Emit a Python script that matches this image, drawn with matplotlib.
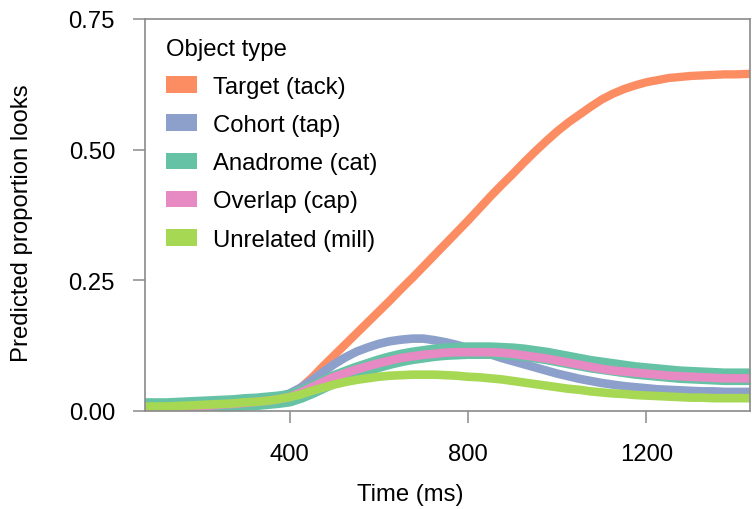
import matplotlib
matplotlib.use("Agg")
import matplotlib.pyplot as plt
from matplotlib.patches import Patch

plt.rcParams['font.family'] = ['Liberation Sans', 'DejaVu Sans']

# ---- data ----
time_ms = [76, 100, 125, 150, 175, 200, 225, 250, 275, 300, 325, 350, 375,
           400, 425, 450, 475, 500, 525, 550, 575, 600, 625, 650, 675,
           700, 725, 750, 775, 800, 825, 850, 875, 900, 925, 950, 975,
           1000, 1025, 1050, 1075, 1100, 1125, 1150, 1175, 1200, 1225, 1250, 1275,
           1300, 1325, 1350, 1375, 1400, 1432]

target = [0.006, 0.006, 0.006, 0.007, 0.008, 0.009, 0.010, 0.012, 0.014, 0.016, 0.019, 0.022, 0.026,
          0.032, 0.044, 0.063, 0.085, 0.106, 0.127, 0.148, 0.169, 0.190, 0.211, 0.233, 0.254,
          0.276, 0.298, 0.320, 0.342, 0.364, 0.387, 0.410, 0.432, 0.453, 0.475, 0.496, 0.516,
          0.535, 0.552, 0.567, 0.582, 0.596, 0.607, 0.616, 0.623, 0.629, 0.633, 0.637, 0.639,
          0.641, 0.642, 0.643, 0.644, 0.644, 0.645]

cohort = [0.005, 0.005, 0.005, 0.006, 0.007, 0.008, 0.009, 0.011, 0.013, 0.015, 0.018, 0.021, 0.026,
          0.033, 0.044, 0.058, 0.074, 0.089, 0.102, 0.113, 0.121, 0.128, 0.133, 0.136, 0.138,
          0.138, 0.135, 0.131, 0.126, 0.120, 0.114, 0.108, 0.101, 0.095, 0.089, 0.083, 0.077,
          0.071, 0.066, 0.061, 0.057, 0.053, 0.050, 0.047, 0.045, 0.043, 0.041, 0.040, 0.039,
          0.038, 0.037, 0.037, 0.036, 0.036, 0.036]

anadrome = [0.008, 0.008, 0.008, 0.009, 0.010, 0.011, 0.012, 0.013, 0.014, 0.016, 0.017, 0.019, 0.021,
            0.024, 0.031, 0.040, 0.050, 0.060, 0.068, 0.076, 0.083, 0.090, 0.096, 0.101, 0.105,
            0.108, 0.111, 0.113, 0.114, 0.115, 0.115, 0.115, 0.114, 0.113, 0.111, 0.108, 0.105,
            0.101, 0.097, 0.093, 0.089, 0.086, 0.083, 0.080, 0.077, 0.075, 0.073, 0.071, 0.069,
            0.068, 0.067, 0.066, 0.065, 0.065, 0.065]

overlap = [0.006, 0.006, 0.006, 0.007, 0.008, 0.009, 0.010, 0.012, 0.013, 0.015, 0.017, 0.019, 0.022,
           0.026, 0.035, 0.045, 0.055, 0.065, 0.072, 0.079, 0.085, 0.091, 0.096, 0.101, 0.104,
           0.107, 0.109, 0.111, 0.112, 0.112, 0.112, 0.112, 0.111, 0.109, 0.106, 0.103, 0.100,
           0.096, 0.092, 0.088, 0.084, 0.080, 0.077, 0.075, 0.073, 0.071, 0.069, 0.067, 0.066,
           0.065, 0.064, 0.063, 0.062, 0.062, 0.062]

unrelated = [0.008, 0.008, 0.008, 0.009, 0.010, 0.011, 0.012, 0.013, 0.014, 0.016, 0.017, 0.019, 0.022,
             0.026, 0.031, 0.038, 0.044, 0.050, 0.055, 0.059, 0.062, 0.065, 0.067, 0.068, 0.069,
             0.069, 0.069, 0.068, 0.067, 0.065, 0.064, 0.062, 0.060, 0.057, 0.054, 0.051, 0.048,
             0.045, 0.042, 0.040, 0.037, 0.035, 0.033, 0.032, 0.030, 0.029, 0.028, 0.027, 0.026,
             0.025, 0.025, 0.024, 0.024, 0.024, 0.024]

labels = ["Target (tack)", "Cohort (tap)", "Anadrome (cat)", "Overlap (cap)",
          "Unrelated (mill)"]
series = [target, cohort, anadrome, overlap, unrelated]
colors = ["#FC8D62", "#8DA0CB", "#66C2A5", "#E78AC3", "#A6D854"]
widths = [6.0, 6.2, 12.0, 6.2, 6.2]

x_ticks = [400, 800, 1200]
y_ticks = [0.00, 0.25, 0.50, 0.75]
y_ticklabels = ["0.00", "0.25", "0.50", "0.75"]

# ---- figure ----
W, H = 752, 510
fig = plt.figure(figsize=(W / 100, H / 100), dpi=100)
ax = fig.add_axes([145 / W, 1 - 411.7 / H, 605 / W, 391.7 / H])

for vals, c, lw in zip(series, colors, widths):
    ax.plot(time_ms, vals, color=c, lw=lw, solid_capstyle='butt',
            solid_joinstyle='round')

ax.set_xlim(76, 1432)
ax.set_ylim(0, 0.75)
ax.set_xticks(x_ticks)
ax.set_xticklabels([str(v) for v in x_ticks])
ax.set_yticks(y_ticks)
ax.set_yticklabels(y_ticklabels)

gray = "#8a8a8a"
for s in ax.spines.values():
    s.set_color(gray)
    s.set_linewidth(1.2)

fs = 17.2
ax.tick_params(axis='both', direction='out', length=8.6, width=1.1, color=gray,
               labelsize=fs, labelcolor='black')
ax.tick_params(axis='y', pad=13)
ax.tick_params(axis='x', pad=15)

ax.set_xlabel("Time (ms)", fontsize=fs)
ax.xaxis.label.set_va('center')
ax.xaxis.set_label_coords((410 - 145) / 605, (411.7 - 495) / 391.7)
ax.set_ylabel("Predicted proportion looks", fontsize=fs)
ax.yaxis.label.set_va('center')
ax.yaxis.set_label_coords((22.5 - 145) / 605, (411.7 - 223.5) / 391.7)

handles = [Patch(facecolor=c, edgecolor='none') for c in colors]
leg = ax.legend(handles, labels, title="Object type", fontsize=fs,
                title_fontsize=fs, frameon=False, loc='upper left',
                bbox_to_anchor=(166 / W, 1 - 38.5 / H),
                bbox_transform=fig.transFigure, borderpad=0, borderaxespad=0,
                handlelength=1.3, handleheight=0.7, handletextpad=0.65,
                labelspacing=0.68, alignment='left')

fig.savefig("out.png", dpi=100)
